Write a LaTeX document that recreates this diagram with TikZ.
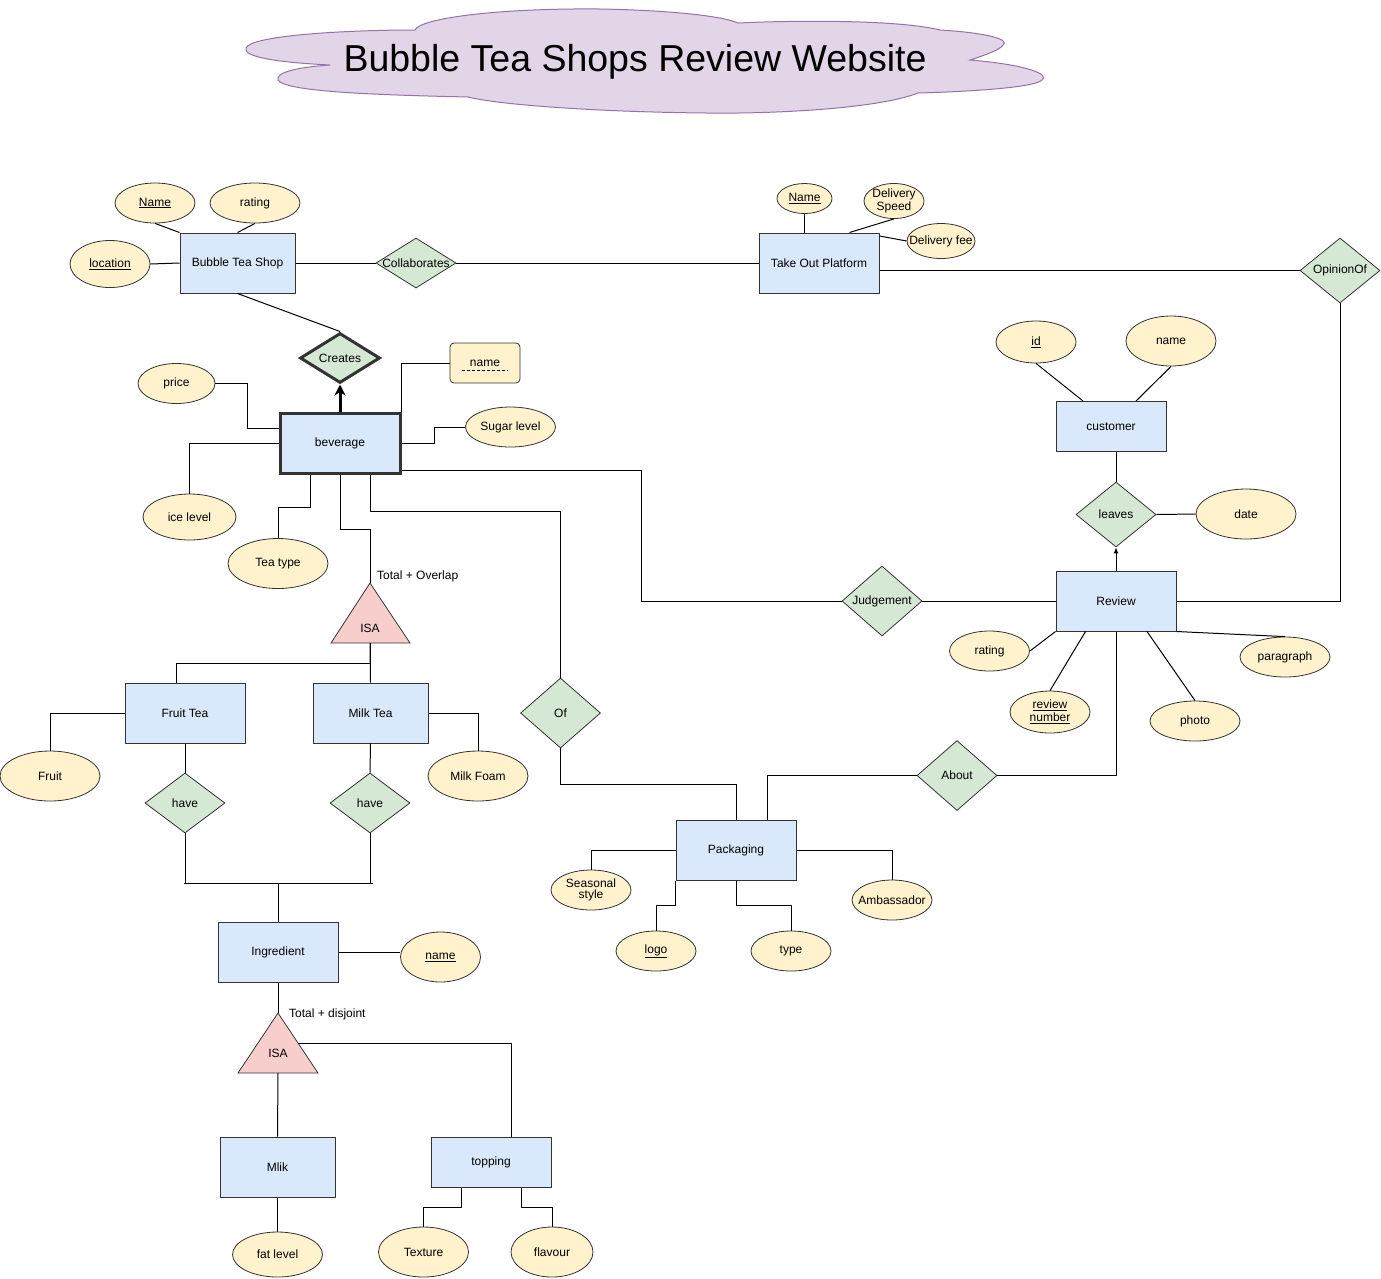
\documentclass[tikz,border=0pt]{standalone}
\usepackage{fontspec}
\setmainfont{Liberation Sans}
\usetikzlibrary{shapes.geometric,arrows.meta}

\definecolor{entityblau}{HTML}{DAE8FC}
\definecolor{attrgelb}{HTML}{FFF2CC}
\definecolor{relgruen}{HTML}{D5E8D4}
\definecolor{isarot}{HTML}{F8CECC}
\definecolor{wolke}{HTML}{E1D5E7}
\definecolor{wolkenrand}{HTML}{9673A6}

\begin{document}
\begin{tikzpicture}[x=1pt, y=-1pt, font=\fontsize{12}{14}\selectfont,
	entity/.style={rectangle, draw=black!80, fill=entityblau, line width=1pt, inner sep=0pt},
	attr/.style={ellipse, draw=black!80, fill=attrgelb, line width=0.8pt, inner sep=0pt},
	rel/.style={diamond, draw=black!80, fill=relgruen, line width=0.8pt, inner sep=0pt},
	isa/.style={draw=black!80, fill=isarot, line width=0.8pt},
	verb/.style={draw=black, line width=1pt}]
	
	\useasboundingbox (0,0) rectangle (1381,1278);
	
	% Titelwolke
	\draw[fill=wolke, draw=wolkenrand, line width=1pt]
	(246,48) .. controls (250,36) and (340,30) .. (415,30)
	.. controls (420,18) and (500,8) .. (600,9)
	.. controls (660,10) and (720,15) .. (738,23)
	.. controls (800,20) and (900,20) .. (940,30)
	.. controls (990,33) and (1010,40) .. (1003,45)
	.. controls (1000,50) and (985,55) .. (970,60)
	.. controls (1030,65) and (1050,75) .. (1042,80)
	.. controls (1035,88) and (960,92) .. (918,93)
	.. controls (880,108) and (780,114) .. (706,113)
	.. controls (600,112) and (500,105) .. (468,97)
	.. controls (380,95) and (285,92) .. (278,80)
	.. controls (275,72) and (300,67) .. (330,65)
	.. controls (270,62) and (243,56) .. (246,48) -- cycle;
	\node[font=\fontsize{37.5}{40}\selectfont] (titel) at (635,62) {Bubble Tea Shops Review Website};
	
	% Entitaeten
	\node[entity, minimum width=115pt, minimum height=60pt] (shop) at (237.5,263) {Bubble Tea Shop};
	\node[entity, minimum width=120pt, minimum height=60pt] (takeout) at (819,263) {Take Out Platform};
	\node[entity, minimum width=120pt, minimum height=60pt, line width=3pt] (beverage) at (340,443) {beverage};
	\node[entity, minimum width=110pt, minimum height=50pt] (customer) at (1111,426.5) {customer};
	\node[entity, minimum width=120pt, minimum height=60pt] (review) at (1116,601) {Review};
	\node[entity, minimum width=120pt, minimum height=60pt] (fruittea) at (185,713) {Fruit Tea};
	\node[entity, minimum width=115pt, minimum height=60pt] (milktea) at (370.5,713) {Milk Tea};
	\node[entity, minimum width=120pt, minimum height=60pt] (packaging) at (736,850) {Packaging};
	\node[entity, minimum width=120pt, minimum height=60pt] (ingredient) at (278,952.5) {Ingredient};
	\node[entity, minimum width=115pt, minimum height=60pt] (milk) at (277.5,1167) {Mlik};
	\node[entity, minimum width=120pt, minimum height=50pt] (topping) at (491,1162) {topping};
	
	% Beziehungen
	\node[rel, minimum width=80pt, minimum height=50pt] (collab) at (416,263) {\makebox[0pt]{Collaborates}};
	\node[rel, minimum width=80pt, minimum height=65pt] (opinion) at (1340,270.5) {\makebox[0pt]{OpinionOf}};
	\node[rel, minimum width=80pt, minimum height=50pt, line width=3pt] (creates) at (340,358) {\makebox[0pt]{Creates}};
	\node[rel, minimum width=80pt, minimum height=65pt] (leaves) at (1116,514.5) {\makebox[0pt]{leaves}};
	\node[rel, minimum width=80pt, minimum height=70pt] (judgement) at (882,601) {\makebox[0pt]{Judgement}};
	\node[rel, minimum width=80pt, minimum height=70pt] (of) at (560.5,713) {\makebox[0pt]{Of}};
	\node[rel, minimum width=80pt, minimum height=70pt] (about) at (957,775.5) {\makebox[0pt]{About}};
	\node[rel, minimum width=80pt, minimum height=60pt] (have1) at (185,803) {\makebox[0pt]{have}};
	\node[rel, minimum width=80pt, minimum height=60pt] (have2) at (370,803) {\makebox[0pt]{have}};
	
	% ISA-Dreiecke
	\draw[isa] (370,583) -- (410,643) -- (331,643) -- cycle;
	\node (isa1) at (370,628) {ISA};
	\coordinate (isa1oben) at (370,583);
	\coordinate (isa1unten) at (370,643);
	\node[anchor=west, inner sep=0pt] (overlap) at (377,576) {Total + Overlap};
	
	\draw[isa] (278,1013) -- (318,1073) -- (238,1073) -- cycle;
	\node (isa2) at (278,1053) {ISA};
	\coordinate (isa2oben) at (278,1013);
	\coordinate (isa2unten) at (278,1073);
	\coordinate (isa2rechts) at (298,1043);
	\node[anchor=west, inner sep=0pt] (disjoint) at (289,1014) {Total + disjoint};
	
	% Attribute
	\node[attr, minimum width=80pt, minimum height=40pt] (shopname) at (155,203) {\underline{Name}};
	\node[attr, minimum width=90pt, minimum height=40pt] (shoprating) at (255,203) {rating};
	\node[attr, minimum width=80pt, minimum height=47pt] (location) at (110,264) {\underline{location}};
	\node[attr, minimum width=55pt, minimum height=30pt] (tpname) at (804.5,198.5) {\makebox[0pt]{\underline{Name}}};
	\node[attr, minimum width=60pt, minimum height=35pt, align=center] (speed) at (894,201) {\makebox[0pt]{\shortstack{Delivery\\[-1pt]Speed}}};
	\node[attr, minimum width=68pt, minimum height=35pt] (fee) at (941,241) {\makebox[0pt]{Delivery fee}};
	\node[attr, minimum width=77pt, minimum height=40pt] (price) at (176.5,383.5) {price};
	\node[attr, rectangle, rounded corners=4pt, minimum width=70pt, minimum height=40pt] (bevname) at (485,363) {name};
	\node[attr, minimum width=90pt, minimum height=40pt] (sugar) at (510.5,427) {\makebox[0pt]{Sugar level}};
	\node[attr, minimum width=93pt, minimum height=46pt] (ice) at (189.5,517) {ice level};
	\node[attr, minimum width=100pt, minimum height=50pt] (teatype) at (278,563.5) {Tea type};
	\node[attr, minimum width=80pt, minimum height=42pt] (id) at (1036,342) {\underline{id}};
	\node[attr, minimum width=90pt, minimum height=50pt] (custname) at (1171,341) {name};
	\node[attr, minimum width=100pt, minimum height=50pt] (date) at (1246,514) {date};
	\node[attr, minimum width=80pt, minimum height=40pt] (revrating) at (989.5,651) {rating};
	\node[attr, minimum width=80pt, minimum height=42pt] (revnum) at (1050,712) {\makebox[0pt]{\shortstack{\underline{review}\\[-1pt]\underline{number}}}};
	\node[attr, minimum width=90pt, minimum height=40pt] (photo) at (1195,721) {photo};
	\node[attr, minimum width=90pt, minimum height=40pt] (paragraph) at (1285,657) {\makebox[0pt]{paragraph}};
	\node[attr, minimum width=100pt, minimum height=50pt] (fruit) at (50,776) {Fruit};
	\node[attr, minimum width=100pt, minimum height=50pt] (milkfoam) at (478,776) {\makebox[0pt]{Milk Foam}};
	\node[attr, minimum width=80pt, minimum height=40pt] (seasonal) at (591,890) {\makebox[0pt]{\shortstack{Seasonal\\[-1pt]style}}};
	\node[attr, minimum width=80pt, minimum height=40pt] (logo) at (656,951) {\underline{logo}};
	\node[attr, minimum width=80pt, minimum height=40pt] (ptype) at (791,951) {type};
	\node[attr, minimum width=80pt, minimum height=40pt] (ambassador) at (892,900) {\makebox[0pt]{Ambassador}};
	\node[attr, minimum width=80pt, minimum height=50pt] (ingname) at (440.5,957) {\underline{name}};
	\node[attr, minimum width=90pt, minimum height=45pt] (fat) at (277.5,1254.5) {fat level};
	\node[attr, minimum width=90pt, minimum height=50pt] (texture) at (423.5,1252) {Texture};
	\node[attr, minimum width=82pt, minimum height=50pt] (flavour) at (552,1252) {flavour};
	
	% gestrichelte Unterstreichung (schwacher Schluessel)
	\draw[dash pattern=on 3pt off 2pt, line width=0.8pt]
	([xshift=-23pt,yshift=-7pt]bevname.center) -- ([xshift=23pt,yshift=-7pt]bevname.center);
	
	% Verbindungen Bubble Tea Shop
	\draw[verb] (shopname.south) -- (shop.north west);
	\draw[verb] (shoprating.south) -- (shop.north);
	\draw[verb] (location.east) -- (shop.west);
	\draw[verb] (shop.east) -- (collab.west);
	\draw[verb] (collab.east) -- (takeout.west);
	\draw[verb] (shop.south) -- (creates.north);
	
	% Verbindungen Take Out Platform
	\draw[verb] (tpname.south) -- (tpname.south |- takeout.north);
	\draw[verb] (speed.south) -- ([xshift=-30pt]takeout.north east);
	\draw[verb] ([yshift=27pt]takeout.east) -- (fee.west);
	\draw[verb] (takeout.east |- opinion.west) -- (opinion.west);
	\draw[verb] (opinion.south) |- (review.east);
	
	% Verbindungen beverage
	\draw[line width=3pt, -{Stealth[length=11pt, width=11pt]}] (beverage.north) -- (creates.south);
	\draw[verb] (price.east) -- ++(32,0) |- ([yshift=15pt]beverage.west);
	\draw[verb] (beverage.north east) |- (bevname.west);
	\draw[verb] (beverage.east) -- ++(33,0) |- (sugar.west);
	\draw[verb] (beverage.west) -| (ice.north);
	\draw[verb] ([xshift=-30pt]beverage.south) -- ++(0,33) -| (teatype.north);
	\draw[verb] (beverage.south) -- ++(0,55) -| (isa1oben);
	\draw[verb] ([xshift=30pt]beverage.south) -- ++(0,37) -| (of.north);
	\draw[verb] ([yshift=-27pt]beverage.east) -- ++(240,0) |- (judgement.west);
	\draw[verb] (judgement.east) -- (review.west);
	
	% Verbindungen Review und customer
	\draw[verb, -{Latex[length=6pt, width=5pt]}] (review.north) -- (leaves.south);
	\draw[verb] (leaves.north |- customer.south) -- (leaves.north);
	\draw[verb] (leaves.east) -- (date.west);
	\draw[verb] (id.south) -- ([xshift=-28pt]customer.north);
	\draw[verb] (custname.south) -- ([xshift=25pt]customer.north);
	\draw[verb] (review.south west) -- (revrating.east);
	\draw[verb] ([xshift=30pt]review.south west) -- (revnum.north);
	\draw[verb] ([xshift=31pt]review.south) -- (photo.north);
	\draw[verb] (review.south east) -- (paragraph.north);
	\draw[verb] (review.south) |- (about.east);
	\draw[verb] (about.west) -| ([xshift=31pt]packaging.north);
	
	% Verbindungen Packaging
	\draw[verb] (of.south) -- ++(0,36) -| (packaging.north);
	\draw[verb] (packaging.west) -| (seasonal.north);
	\draw[verb] (packaging.south west) -- ++(0,25) -| (logo.north);
	\draw[verb] (packaging.south) -- ++(0,25) -| (ptype.north);
	\draw[verb] (packaging.east) -| (ambassador.north);
	
	% ISA Tee-Sorten
	\draw[verb] (isa1unten) -- (milktea.north);
	\draw[verb] (isa1unten) -- ++(0,20) -| ([xshift=-9pt]fruittea.north);
	\draw[verb] (fruittea.west) -| (fruit.north);
	\draw[verb] (milktea.east) -| (milkfoam.north);
	\draw[verb] (fruittea.south) -- (have1.north);
	\draw[verb] (milktea.south) -- (have2.north);
	
	% have -> Ingredient
	\draw[verb] (have1.south) -- ++(0,50) coordinate (have1unten);
	\draw[verb] (have2.south) -- ++(0,50) coordinate (have2unten);
	\draw[verb] ([xshift=-1pt]have1unten) -- ([xshift=3pt]have2unten);
	\draw[verb] (ingredient.north) -- (ingredient.north |- have1unten);
	\draw[verb] (ingredient.east) -- (ingredient.east -| ingname.west);
	
	% ISA Zutaten
	\draw[verb] (ingredient.south) -- (isa2oben);
	\draw[verb] (isa2unten) -- (milk.north);
	\draw[verb] (isa2rechts) -| ([xshift=20pt]topping.north);
	\draw[verb] (milk.south) -- (fat.north);
	\draw[verb] ([xshift=-30pt]topping.south) -- ++(0,20) -| (texture.north);
	\draw[verb] ([xshift=30pt]topping.south) -- ++(0,20) -| (flavour.north);
	
\end{tikzpicture}
\end{document}
